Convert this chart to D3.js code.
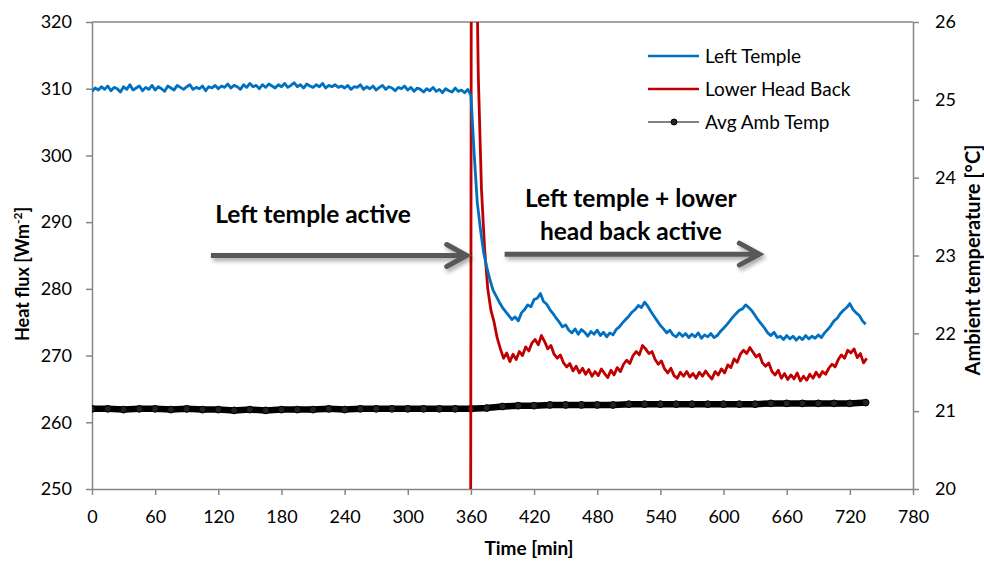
<!DOCTYPE html>
<html>
<head>
<meta charset="utf-8">
<script src="https://cdn.jsdelivr.net/npm/d3@7"></script>
<style>
  body { margin: 0; background: #fff; }
  text { font-family: Lato, "Open Sans", sans-serif; fill: #000; }
</style>
</head>
<body>
<svg id="chart" width="984" height="561"></svg>
<script>
// ---- data ----
// Left Temple heat flux [W/m2], one value every 3 min from t = 0
const leftTempleStart = 0, leftTempleStep = 3;
const leftTemple = [
  309.6, 310.1, 309.8, 310.3, 309.9, 310.4, 309.7, 310.2, 310.0, 309.5, 310.3, 309.9, 310.6, 309.8, 310.1, 310.4, 309.7, 310.2, 309.9, 310.5,
  309.8, 310.3, 310.0, 309.6, 310.4, 310.1, 309.8, 310.5, 310.2, 309.9, 310.3, 310.6, 309.9, 310.2, 310.0, 310.4, 309.7, 310.3, 310.1, 310.5,
  310.0, 310.4, 310.2, 310.7, 310.1, 310.5, 310.3, 309.9, 310.6, 310.2, 310.8, 310.3, 310.5, 310.0, 310.6, 310.2, 310.7, 310.4, 310.1, 310.6,
  310.3, 310.8, 310.2, 310.5, 310.9, 310.3, 310.6, 310.1, 310.7, 310.4, 310.2, 310.6, 310.3, 310.8, 310.1, 310.5, 310.3, 310.6, 310.2, 310.4,
  310.1, 310.5, 309.9, 310.3, 310.2, 310.6, 309.9, 310.3, 310.0, 310.4, 309.8, 310.2, 310.5, 309.9, 310.3, 310.1, 309.7, 310.2, 310.0, 310.4,
  309.8, 310.2, 309.6, 310.1, 309.9, 309.5, 310.0, 309.7, 310.2, 309.6, 309.9, 309.4, 310.0, 309.7, 309.5, 310.1, 309.6, 309.8, 309.4, 309.9,
  309.0, 300.5, 293.0, 289.0, 285.5, 283.3, 281.4, 279.8, 278.9, 278.0,
  277.2, 276.6, 276.0, 275.4, 275.8, 275.2, 276.4, 276.9, 277.6, 277.3,
  278.4, 278.6, 279.3, 278.1, 277.7, 276.9, 276.3, 275.6, 275.0, 274.3,
  274.6, 273.8, 273.4, 274.0, 273.2, 273.9, 273.5, 272.9, 273.6, 273.2,
  273.8, 273.0, 273.5, 272.8, 273.4, 273.1, 273.9, 274.3, 274.9, 275.4,
  275.9, 276.5, 276.9, 277.5, 277.2, 278.0, 277.4, 276.6, 275.9, 275.2,
  274.5, 274.0, 273.4, 273.8, 273.1, 272.8, 273.4, 272.9, 273.3, 272.7,
  273.2, 272.8, 273.4, 272.6, 273.1, 272.8, 273.3, 272.7, 273.0, 273.6,
  274.1, 274.6, 275.2, 275.8, 276.3, 276.8, 277.0, 277.6, 277.2, 276.7,
  276.0, 275.3, 274.7, 274.1, 273.4, 273.0, 273.5, 272.7, 272.9, 272.4,
  273.0, 272.5, 272.9, 272.3, 272.8, 272.4, 273.0, 272.5, 272.9, 272.6,
  273.1, 272.7, 273.4, 273.9, 274.5, 275.2, 275.6, 276.3, 276.8, 277.2,
  277.8, 276.9, 276.4, 276.0, 275.2, 274.7
];

// Lower Head Back heat flux [W/m2], one value every 3 min from t = 358
const lowerHeadStart = 358, lowerHeadStep = 3;
const lowerHeadBack = [
  0,
  420, 345, 312, 295, 286, 280, 276.8, 275.0, 272.6, 271.0,
  269.6, 270.4, 269.1, 270.2, 269.4, 270.6, 270.0, 271.3, 270.7, 271.9,
  272.4, 271.6, 273.0, 272.1, 271.0, 271.5, 270.2, 269.6, 270.1, 268.9,
  268.3, 268.8, 267.7, 268.4, 267.4, 268.1, 267.2, 267.9, 266.9, 267.6,
  267.0, 268.0, 267.3, 266.7, 267.8, 267.1, 268.2, 267.6, 268.7, 269.3,
  268.8, 270.0, 270.6, 270.1, 271.5, 271.0, 270.3, 270.6, 269.4, 268.7,
  269.2, 268.0, 267.4, 268.1, 267.0, 266.6, 267.5, 266.9, 267.6, 266.8,
  267.3, 266.6, 267.5, 266.9, 267.7, 267.0, 266.5, 267.6, 267.1, 268.0,
  267.4, 268.6, 268.2, 269.5, 269.0, 270.2, 270.8, 270.3, 271.2, 270.5,
  269.8, 270.2, 268.9, 268.4, 268.9, 267.6, 267.1, 267.8, 266.6, 267.3,
  266.4, 267.1, 266.5, 267.4, 266.2, 266.9, 266.3, 267.2, 266.6, 267.5,
  266.8, 267.6, 267.2, 268.1, 268.7, 268.3, 269.4, 270.1, 269.6, 270.8,
  270.4, 271.0, 269.7, 270.3, 268.9, 269.6
];

// Average ambient temperature [°C], one value every 15 min from t = 0
const ambStart = 0, ambStep = 15;
const ambTemp = [
  21.03, 21.03, 21.02, 21.03, 21.03, 21.02, 21.03, 21.02, 21.02, 21.01,
  21.02, 21.01, 21.02, 21.02, 21.02, 21.03, 21.02, 21.03, 21.03, 21.03,
  21.03, 21.03, 21.03, 21.03, 21.03, 21.04, 21.06, 21.07, 21.07, 21.08,
  21.08, 21.08, 21.08, 21.08, 21.09, 21.09, 21.09, 21.09, 21.09, 21.09,
  21.09, 21.09, 21.09, 21.10, 21.10, 21.10, 21.10, 21.10, 21.10, 21.11
];

const timeTicks = [0, 60, 120, 180, 240, 300, 360, 420, 480, 540, 600, 660, 720, 780];
const fluxTicks = [250, 260, 270, 280, 290, 300, 310, 320];
const tempTicks = [20, 21, 22, 23, 24, 25, 26];

const seriesNames = ["Left Temple", "Lower Head Back", "Avg Amb Temp"];
const seriesColors = ["#0070C0", "#C00000", "#000000"];

// annotations in data units: [t0, t1, flux]
const arrows = [[113, 356, 285.0], [392, 634, 285.2]];
const notes = [
  { t: 210, flux: 289.9, lines: ["Left temple active"] },
  { t: 512, flux: 292.3, lines: ["Left temple + lower", "head back active"] }
];

// ---- layout ----
const svg = d3.select("#chart");
const plotLeft = 92, plotRight = 913, plotTop = 22, plotBottom = 489;
const axisColor = "#868686";
const tickFont = "18px";

const x = d3.scaleLinear().domain([0, 780]).range([plotLeft, plotRight]);
const y = d3.scaleLinear().domain([250, 320]).range([plotBottom, plotTop]);
const y2 = d3.scaleLinear().domain([20, 26]).range([plotBottom, plotTop]);

const defs = svg.append("defs");
defs.append("clipPath").attr("id", "plot-clip")
    .append("rect").attr("x", plotLeft).attr("y", plotTop)
    .attr("width", plotRight - plotLeft).attr("height", plotBottom - plotTop);

const shadow = defs.append("filter").attr("id", "arrow-shadow")
    .attr("x", "-10%").attr("y", "-100%").attr("width", "130%").attr("height", "300%");
shadow.append("feDropShadow").attr("dx", 2).attr("dy", 3)
    .attr("stdDeviation", 2).attr("flood-color", "#000").attr("flood-opacity", 0.35);

// plot frame (top border)
svg.append("line")
    .attr("x1", plotLeft).attr("x2", plotRight).attr("y1", plotTop).attr("y2", plotTop)
    .attr("stroke", axisColor).attr("stroke-width", 1.5);

// ---- axes ----
function styleAxis(g) {
    g.select(".domain").attr("stroke", axisColor).attr("stroke-width", 1.5);
    g.selectAll(".tick line").attr("stroke", axisColor).attr("stroke-width", 1.5);
    g.selectAll(".tick text").attr("fill", "#000").style("font-size", tickFont)
        .style("font-family", "Lato, 'Open Sans', sans-serif");
}

svg.append("g")
    .attr("transform", `translate(0,${plotBottom})`)
    .call(d3.axisBottom(x).tickValues(timeTicks).tickSize(6).tickSizeOuter(0).tickPadding(15))
    .call(styleAxis);

svg.append("g")
    .attr("transform", `translate(${plotLeft},0)`)
    .call(d3.axisLeft(y).tickValues(fluxTicks).tickSize(6).tickSizeOuter(0).tickPadding(14))
    .call(styleAxis);

svg.append("g")
    .attr("transform", `translate(${plotRight},0)`)
    .call(d3.axisRight(y2).tickValues(tempTicks).tickFormat(d3.format("d"))
        .tickSize(6).tickSizeOuter(0).tickPadding(16))
    .call(styleAxis);

// axis titles
svg.append("text")
    .attr("x", 529).attr("y", 555)
    .attr("text-anchor", "middle")
    .style("font-size", "19px").style("font-weight", "bold")
    .text("Time [min]");

const yTitle = svg.append("text")
    .attr("transform", "translate(29,274) rotate(-90)")
    .attr("text-anchor", "middle")
    .style("font-size", "18px").style("font-weight", "bold");
yTitle.append("tspan").text("Heat flux [Wm");
yTitle.append("tspan").attr("dy", -7).style("font-size", "12px").text("-2");
yTitle.append("tspan").attr("dy", 7).text("]");

svg.append("text")
    .attr("transform", "translate(980,260) rotate(-90)")
    .attr("text-anchor", "middle")
    .style("font-size", "20px").style("font-weight", "bold")
    .text("Ambient temperature [°C]");

// ---- series ----
const plot = svg.append("g").attr("clip-path", "url(#plot-clip)");

const toPoints = (values, start, step) => values.map((v, i) => ({ t: start + i * step, v: v }));

const fluxLine = d3.line().x(d => x(d.t)).y(d => y(d.v));
const tempLine = d3.line().x(d => x(d.t)).y(d => y2(d.v));

const ambPoints = toPoints(ambTemp, ambStart, ambStep);

plot.append("path")
    .datum(ambPoints)
    .attr("d", tempLine)
    .attr("fill", "none")
    .attr("stroke", "#000")
    .attr("stroke-width", 6.5)
    .attr("stroke-linejoin", "round");

plot.append("g").selectAll("circle")
    .data(ambPoints)
    .enter().append("circle")
    .attr("cx", d => x(d.t))
    .attr("cy", d => y2(d.v))
    .attr("r", 3.4)
    .attr("fill", "#222")
    .attr("stroke", "#000")
    .attr("stroke-width", 1);

plot.append("path")
    .datum(toPoints(lowerHeadBack, lowerHeadStart, lowerHeadStep))
    .attr("d", fluxLine)
    .attr("fill", "none")
    .attr("stroke", seriesColors[1])
    .attr("stroke-width", 2.8)
    .attr("stroke-linejoin", "round");

plot.append("path")
    .datum(toPoints(leftTemple, leftTempleStart, leftTempleStep))
    .attr("d", fluxLine)
    .attr("fill", "none")
    .attr("stroke", seriesColors[0])
    .attr("stroke-width", 2.8)
    .attr("stroke-linejoin", "round");

// ---- annotations ----
const arrowG = svg.append("g").attr("filter", "url(#arrow-shadow)");
arrows.forEach(a => {
    const x0 = x(a[0]), x1 = x(a[1]), yy = y(a[2]);
    arrowG.append("line")
        .attr("x1", x0).attr("x2", x1 - 2).attr("y1", yy).attr("y2", yy)
        .attr("stroke", "#595959").attr("stroke-width", 5);
    arrowG.append("path")
        .attr("d", `M${x1 - 20},${yy - 11}L${x1},${yy}L${x1 - 20},${yy + 11}`)
        .attr("fill", "none")
        .attr("stroke", "#595959").attr("stroke-width", 5)
        .attr("stroke-linecap", "round").attr("stroke-linejoin", "miter");
});

notes.forEach(n => {
    const t = svg.append("text")
        .attr("x", x(n.t)).attr("y", y(n.flux))
        .attr("text-anchor", "middle")
        .style("font-size", "24.5px").style("font-weight", "bold");
    n.lines.forEach((line, i) => {
        t.append("tspan").attr("x", x(n.t)).attr("dy", i === 0 ? 0 : 33).text(line);
    });
});

// ---- legend ----
const legend = svg.append("g").attr("transform", "translate(648,56)");
const legendItems = legend.selectAll("g")
    .data(seriesNames)
    .enter().append("g")
    .attr("transform", (d, i) => `translate(0,${i * 33})`);

legendItems.append("line")
    .attr("x1", 0).attr("x2", 51).attr("y1", 0).attr("y2", 0)
    .attr("stroke", (d, i) => i === 2 ? "#595959" : seriesColors[i])
    .attr("stroke-width", (d, i) => i === 2 ? 1.5 : 2.5);

legendItems.filter((d, i) => i === 2).append("circle")
    .attr("cx", 26).attr("cy", 0).attr("r", 3)
    .attr("fill", "#222").attr("stroke", "#000");

legendItems.append("text")
    .attr("x", 57).attr("y", 0).attr("dy", "0.35em")
    .style("font-size", "19px")
    .text(d => d);
</script>
</body>
</html>
